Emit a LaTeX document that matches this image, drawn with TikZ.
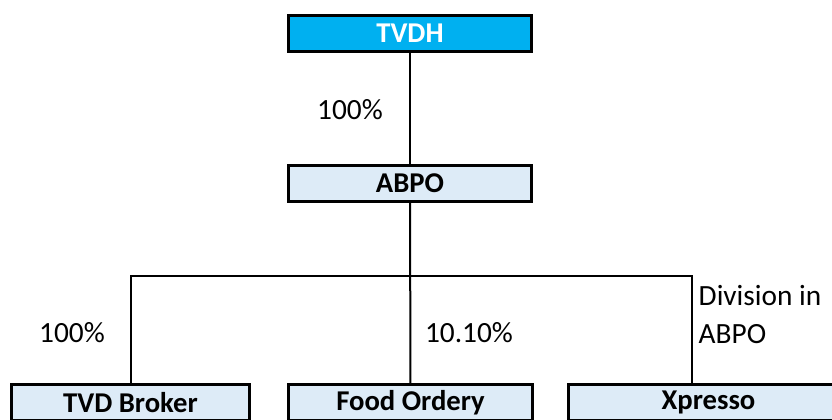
\documentclass[tikz,border=0pt]{standalone}
\usepackage{fontspec}
\setmainfont{Carlito}
\definecolor{topblue}{HTML}{00B0F0}
\definecolor{paleblue}{HTML}{DDEBF7}
\tikzstyle{unit} = [draw=black, line width=2.25pt, fill=paleblue, inner sep=0pt, minimum height=27pt, font={\fontsize{21.5}{25}\selectfont\bfseries}]
\tikzstyle{head} = [fill=topblue, text=white]
\tikzstyle{share} = [font={\fontsize{22}{28.5}\selectfont}]
\tikzstyle{link} = [line width=1.5pt]

\begin{document}
\begin{tikzpicture}[x=0.75pt,y=-0.75pt]
    \useasboundingbox (0,0) rectangle (832,419);
    \node[unit,head,minimum width=182pt](tvdh) at (410,33.5){TVDH};
    \node[unit,minimum width=182pt](abpo) at (410,183){ABPO};
    \node[unit,minimum width=178.5pt](broker) at (130.5,402.5){TVD Broker};
    \node[unit,minimum width=183pt](food) at (410.5,402.5){Food Ordery};
    \node[unit,minimum width=210pt](xpresso) at (708.5,402.5){Xpresso};
    \coordinate(bus) at (410,276);
    \coordinate(xin) at (692,384.5);
    \draw[link](tvdh)--(abpo);
    \draw[link](abpo)--(food);
    \draw[link](broker.north)|-(bus)-|(xin);
    \node[share](p1) at (350,110){100\%};
    \node[share](p2) at (72,333){100\%};
    \node[share](p3) at (469,333){10.10\%};
    \node[share,anchor=west,align=left](div) at (694,315){Division in\\ABPO};
  \end{tikzpicture}
\end{document}
